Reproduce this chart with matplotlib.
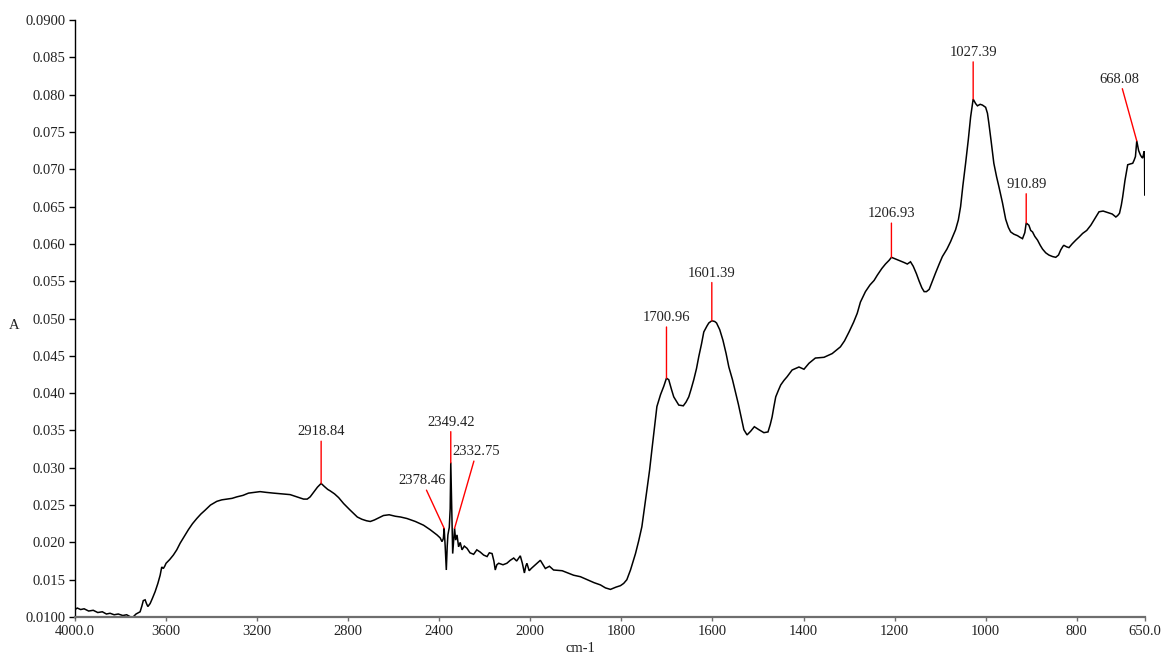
import numpy as np
import matplotlib
matplotlib.use("Agg")
import matplotlib.pyplot as plt

# Infrared absorbance spectrum (wavenumber in cm-1, absorbance A)
wavenumber = [
    4000, 3990, 3975, 3960, 3940, 3920, 3900, 3880, 3862, 3846, 3828, 3810, 3790,
    3773, 3755, 3745, 3732, 3720, 3714,
    3706, 3700, 3692, 3686, 3680, 3670, 3660, 3648, 3636, 3626, 3619, 3612, 3606,
    3600, 3584, 3568, 3553, 3538, 3520, 3502, 3484, 3465, 3447, 3429, 3405, 3377,
    3355, 3333, 3310, 3289, 3262, 3238, 3212, 3187, 3160, 3128, 3090, 3055, 3025,
    2996, 2980, 2967, 2950, 2935, 2918.8, 2905, 2890, 2879, 2860, 2842, 2820, 2794,
    2777, 2760, 2740, 2720, 2703, 2685, 2665, 2645, 2620, 2593, 2570, 2542, 2505,
    2469, 2440, 2410, 2396, 2388, 2382, 2378.5, 2374, 2369, 2365, 2362, 2356, 2352,
    2349.4, 2345, 2341, 2336, 2332.8, 2328, 2322, 2315, 2308, 2300, 2290, 2278,
    2265, 2249, 2235, 2220, 2205, 2190, 2180, 2168, 2160, 2154, 2147, 2139, 2120,
    2103, 2088, 2073, 2060, 2044, 2035, 2026, 2020, 2015, 2005, 1998, 1989, 1978,
    1967, 1958, 1949, 1930, 1905, 1890, 1875, 1860, 1846, 1835, 1824, 1812, 1802,
    1795, 1788, 1780, 1769, 1762, 1755, 1750, 1744, 1738, 1733, 1727, 1722, 1714,
    1707, 1701.0, 1696, 1690, 1685, 1674, 1664, 1658, 1652, 1647, 1641, 1635, 1630,
    1624, 1619, 1612, 1608, 1601.4, 1595, 1591, 1584, 1577, 1570, 1564, 1556, 1549,
    1543, 1538, 1531, 1524, 1516, 1508, 1498, 1487, 1478, 1473, 1469, 1465, 1461,
    1455, 1450, 1443, 1436, 1425, 1410, 1399, 1388, 1374, 1355, 1337, 1319, 1310,
    1300, 1290, 1282, 1275, 1264, 1254, 1245, 1238, 1228, 1220, 1212, 1206.9, 1195,
    1187, 1179, 1172, 1165, 1159, 1152, 1146, 1140, 1135, 1130, 1124, 1117, 1110,
    1102, 1095, 1085, 1077, 1066, 1060, 1055, 1050, 1044, 1038, 1033, 1027.4, 1022,
    1018, 1012, 1007, 1000, 996, 993, 988, 982, 976, 971, 963, 956, 950, 945, 938,
    930, 925, 919, 914, 910.9, 905, 901, 897, 892, 886, 880, 875, 868, 861, 853,
    846, 840, 835, 830, 828, 822, 817, 810, 802, 795, 787, 778, 769, 760, 751, 742,
    732, 722, 714, 710, 706, 702, 699, 694, 688, 683, 677, 674, 671, 668.1, 664,
    660, 657, 655, 652, 651, 650.5, 650,
]

absorbance = [
    0.0110, 0.0112, 0.0110, 0.0111, 0.0108, 0.0109, 0.0106, 0.0107, 0.0104, 0.0105,
    0.0103, 0.0104, 0.0102, 0.0103, 0.0100, 0.0100,
    0.0104, 0.0106, 0.0107, 0.0115, 0.0122, 0.0123, 0.0118, 0.0114, 0.0118, 0.0125,
    0.0134, 0.0145, 0.0156, 0.0167, 0.0165, 0.0168, 0.0172, 0.0177, 0.0183, 0.0190,
    0.0199, 0.0208, 0.0217, 0.0225, 0.0232, 0.0238, 0.0243, 0.0250, 0.0255, 0.0257,
    0.0258, 0.0259, 0.0261, 0.0263, 0.0266, 0.0267, 0.0268, 0.0267, 0.0266, 0.0265,
    0.0264, 0.0261, 0.0258, 0.0258, 0.0261, 0.0268, 0.0274, 0.0279, 0.0275, 0.0271,
    0.0269, 0.0265, 0.0260, 0.0252, 0.0244, 0.0239, 0.0234, 0.0231, 0.0229, 0.0228,
    0.0230, 0.0233, 0.0236, 0.0237, 0.0235, 0.0234, 0.0232, 0.0228, 0.0223, 0.0217,
    0.0210, 0.0206, 0.0201, 0.0205, 0.0219, 0.0195, 0.0163, 0.0195, 0.0210, 0.0220,
    0.0245, 0.0307, 0.0240, 0.0185, 0.0205, 0.0219, 0.0203, 0.0210, 0.0194, 0.0200,
    0.0190, 0.0195, 0.0192, 0.0186, 0.0184, 0.0190, 0.0187, 0.0183, 0.0181, 0.0186,
    0.0185, 0.0175, 0.0163, 0.0170, 0.0172, 0.0170, 0.0172, 0.0176, 0.0179, 0.0175,
    0.0182, 0.0172, 0.0159, 0.0168, 0.0172, 0.0162, 0.0165, 0.0170, 0.0176, 0.0165,
    0.0168, 0.0163, 0.0162, 0.0156, 0.0154, 0.0150, 0.0146, 0.0143, 0.0139, 0.0137,
    0.0140, 0.0142, 0.0145, 0.0150, 0.0163, 0.0185, 0.0202, 0.0221, 0.0243, 0.0270,
    0.0297, 0.0324, 0.0355, 0.0382, 0.0398, 0.0409, 0.0420, 0.0418, 0.0405, 0.0395,
    0.0384, 0.0383, 0.0388, 0.0395, 0.0405, 0.0418, 0.0433, 0.0449, 0.0466, 0.0482,
    0.0490, 0.0494, 0.0497, 0.0496, 0.0494, 0.0485, 0.0471, 0.0453, 0.0435, 0.0418,
    0.0400, 0.0385, 0.0371, 0.0351, 0.0344, 0.0349, 0.0355, 0.0351, 0.0347, 0.0348,
    0.0358, 0.0368, 0.0382, 0.0395, 0.0404, 0.0411, 0.0417, 0.0422, 0.0431, 0.0435,
    0.0432, 0.0440, 0.0447, 0.0448, 0.0453, 0.0462, 0.0470, 0.0482, 0.0495, 0.0507,
    0.0522, 0.0536, 0.0545, 0.0551, 0.0558, 0.0567, 0.0573, 0.0578, 0.0582, 0.0579,
    0.0577, 0.0575, 0.0573, 0.0576, 0.0570, 0.0560, 0.0550, 0.0541, 0.0536, 0.0536,
    0.0539, 0.0550, 0.0561, 0.0573, 0.0583, 0.0593, 0.0603, 0.0619, 0.0632, 0.0650,
    0.0678, 0.0708, 0.0740, 0.0770, 0.0794, 0.0788, 0.0785, 0.0787, 0.0786, 0.0783,
    0.0775, 0.0762, 0.0738, 0.0708, 0.0690, 0.0677, 0.0655, 0.0633, 0.0622, 0.0616,
    0.0613, 0.0611, 0.0609, 0.0607, 0.0615, 0.0628, 0.0625, 0.0618, 0.0616, 0.0610,
    0.0605, 0.0598, 0.0593, 0.0588, 0.0585, 0.0583, 0.0582, 0.0585, 0.0592, 0.0597,
    0.0598, 0.0596, 0.0595, 0.0600, 0.0605, 0.0609, 0.0614, 0.0618, 0.0625, 0.0634,
    0.0643, 0.0644, 0.0642, 0.0640, 0.0636, 0.0638, 0.0641, 0.0652, 0.0663, 0.0685,
    0.0706, 0.0707, 0.0708, 0.0712, 0.0717, 0.0738, 0.0725, 0.0719, 0.0716, 0.0715,
    0.0724, 0.0722, 0.0665, 0.0686,
]

# Labelled peaks (cm-1) and label offsets in pixels from the peak
peak_positions = [2918.84, 2378.46, 2349.42, 2332.75, 1700.96, 1601.39,
                  1206.93, 1027.39, 910.89, 668.08]
peak_label_offsets = [(0, 45), (-22, 41), (0, 34), (22, 70), (0, 54),
                      (0, 41), (0, 37), (0, 40), (0, 32), (-17, 55)]

x_ticks = [4000, 3600, 3200, 2800, 2400, 2000, 1800, 1600, 1400, 1200, 1000, 800, 650]
x_tick_labels = ["4000.0", "3600", "3200", "2800", "2400", "2000", "1800",
                 "1600", "1400", "1200", "1000", "800", "650.0"]
y_ticks = [0.010, 0.015, 0.020, 0.025, 0.030, 0.035, 0.040, 0.045, 0.050,
           0.055, 0.060, 0.065, 0.070, 0.075, 0.080, 0.085, 0.090]
y_tick_labels = ["0.0100", "0.015", "0.020", "0.025", "0.030", "0.035", "0.040",
                 "0.045", "0.050", "0.055", "0.060", "0.065", "0.070", "0.075",
                 "0.080", "0.085", "0.0900"]

plt.rcParams["font.family"] = ["Liberation Serif", "DejaVu Serif"]
text_color = "#222222"
font_size = 10.5

W, H = 1169, 655
fig = plt.figure(figsize=(W / 100, H / 100), dpi=100)
ax = fig.add_axes([75 / W, 1 - 617 / H, 1070 / W, 597 / H])


# Abscissa compressed by half above 2000 cm-1
def _forward(w):
    w = np.asarray(w, dtype=float)
    return np.where(w > 2000, 2000 + (w - 2000) / 2.0, w)


def _inverse(p):
    p = np.asarray(p, dtype=float)
    return np.where(p > 2000, 2000 + (p - 2000) * 2.0, p)


ax.set_xscale("function", functions=(_forward, _inverse))
ax.set_xlim(4000, 650)
ax.set_ylim(0.010, 0.090)

wn = np.array(wavenumber)
ab = np.array(absorbance)
ax.plot(wn, ab, color="black", lw=1.1, solid_joinstyle="miter", clip_on=True)

# Peak markers
wn_asc = wn[::-1]
ab_asc = ab[::-1]
for pos, (dx, dy) in zip(peak_positions, peak_label_offsets):
    y = float(np.interp(pos, wn_asc, ab_asc))
    ax.annotate(f"{pos:.2f}", xy=(pos, y), xytext=(dx, dy),
                textcoords="offset pixels", ha="center", va="bottom",
                fontsize=font_size, color=text_color,
                arrowprops=dict(arrowstyle="-", color="red", lw=1.0,
                                shrinkA=0, shrinkB=0))

ax.set_xticks(x_ticks)
ax.set_xticklabels(x_tick_labels)
ax.set_yticks(y_ticks)
ax.set_yticklabels(y_tick_labels)
ax.xaxis.set_minor_locator(matplotlib.ticker.NullLocator())
ax.yaxis.set_minor_locator(matplotlib.ticker.NullLocator())

for side in ("top", "right"):
    ax.spines[side].set_visible(False)
ax.spines["left"].set_color("black")
ax.spines["left"].set_linewidth(1.0)
ax.spines["bottom"].set_color("#6e6e6e")
ax.spines["bottom"].set_linewidth(1.6)

ax.tick_params(axis="y", direction="out", length=4, width=1, color="black",
               labelsize=font_size, labelcolor=text_color, pad=3)
ax.tick_params(axis="x", direction="out", length=3, width=1, color="#6e6e6e",
               labelsize=font_size, labelcolor=text_color, pad=3)

fig.text(14 / W, 1 - 325 / H, "A", ha="center", va="center",
         fontsize=font_size, color=text_color)
fig.text(580 / W, 1 - 648 / H, "cm-1", ha="center", va="center",
         fontsize=font_size, color=text_color)

fig.savefig("out.png", dpi=100)
